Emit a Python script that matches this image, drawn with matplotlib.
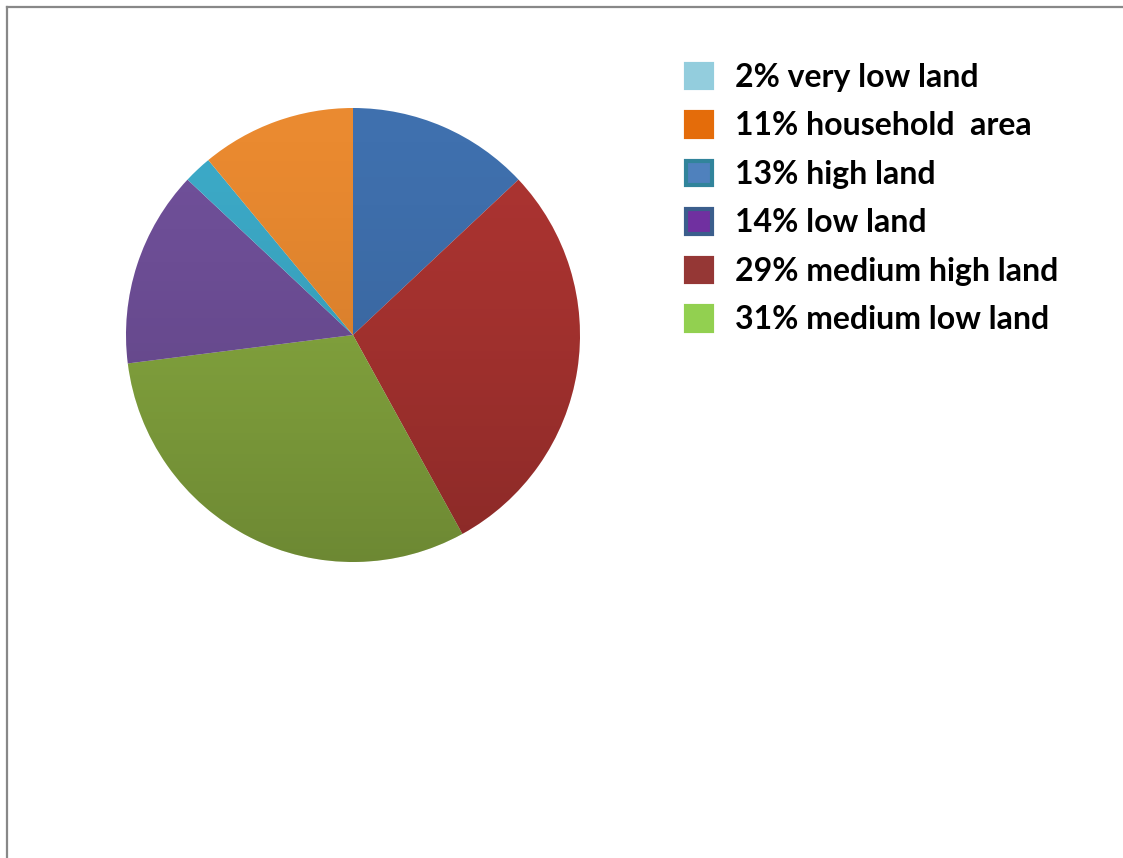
import matplotlib
matplotlib.use('Agg')
import matplotlib.pyplot as plt
from matplotlib.patches import Patch, Circle
from matplotlib.lines import Line2D
import numpy as np

# slices in clockwise order starting at 12 o'clock
labels = ['high land', 'medium high land', 'medium low land', 'low land', 'very low land', 'household  area']
values = [13, 29, 31, 14, 2, 11]
pie_colors = ['#3F70AE', '#AC3431', '#88AA40', '#70509A', '#3CAAC8', '#EA8A30']

# legend, sorted as in the original
leg_labels = ['2% very low land', '11% household  area', '13% high land',
              '14% low land', '29% medium high land', '31% medium low land']
leg_faces = ['#93CDDD', '#E46C0A', '#4F81BD', '#7030A0', '#953735', '#92D050']
leg_edges = ['#93CDDD', '#E46C0A', '#31849B', '#3B5E8C', '#953735', '#92D050']

W, H = 1123, 858
fig = plt.figure(figsize=(W / 100, H / 100), dpi=100)

cx, cy, r = 353, 335, 227
ax = fig.add_axes([(cx - r) / W, (H - cy - r) / H, 2 * r / W, 2 * r / H])
wedges, _ = ax.pie(values, colors=pie_colors, startangle=90, counterclock=False,
                   radius=1, wedgeprops=dict(linewidth=0))

# soft shading: lighter top, darker bottom
grad = np.linspace(0, 1, 256).reshape(-1, 1)
shade = np.zeros((256, 1, 4))
shade[..., 3] = 0.2 * grad ** 1.5
img = ax.imshow(shade, extent=(-1, 1, -1, 1), origin='upper', aspect='auto', zorder=5)
img.set_clip_path(Circle((0, 0), 1, transform=ax.transData))
ax.set_xlim(-1, 1)
ax.set_ylim(-1, 1)
ax.set_aspect('equal')
ax.axis('off')

handles = [Patch(facecolor=f, edgecolor=e, linewidth=3) for f, e in zip(leg_faces, leg_edges)]
fig.legend(handles, leg_labels, loc='upper left', bbox_to_anchor=(686 / W, 1 - 63 / H),
           frameon=False, handlelength=0.8, handleheight=0.8, handletextpad=0.72,
           labelspacing=0.61, borderpad=0, borderaxespad=0,
           prop=dict(family='Lato', weight='bold', size=23))

# partial frame like the cropped screenshot
fig.add_artist(Line2D([6.5 / W, 6.5 / W], [0, 1 - 7 / H], color='#888888', lw=1.6, transform=fig.transFigure))
fig.add_artist(Line2D([6.5 / W, 1], [1 - 7 / H, 1 - 7 / H], color='#888888', lw=1.6, transform=fig.transFigure))

fig.savefig('out.png', dpi=100)
